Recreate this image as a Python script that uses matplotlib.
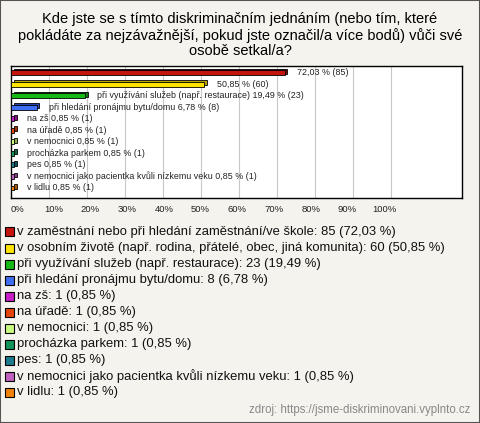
import matplotlib.pyplot as plt
from matplotlib.patches import Rectangle

# data
categories = [
    "v zaměstnání nebo při hledání zaměstnání/ve škole",
    "v osobním životě (např. rodina, přátelé, obec, jiná komunita)",
    "při využívání služeb (např. restaurace)",
    "při hledání pronájmu bytu/domu",
    "na zš",
    "na úřadě",
    "v nemocnici",
    "procházka parkem",
    "pes",
    "v nemocnici jako pacientka kvůli nízkemu veku",
    "v lidlu",
]
counts = [85, 60, 23, 8, 1, 1, 1, 1, 1, 1, 1]
percents = [72.03, 50.85, 19.49, 6.78, 0.85, 0.85, 0.85, 0.85, 0.85, 0.85, 0.85]
colors = ["#c4140c", "#ffe400", "#16b816", "#3f6ef2", "#c81ec8", "#e5450c",
          "#c8fa80", "#13955a", "#1d7b8c", "#c060c0", "#ef820a"]
shade = ["#7a0c06", "#b8a400", "#0c7a0c", "#2444a8", "#8a148a", "#a02e06",
         "#8cb050", "#0c6a3e", "#125462", "#884088", "#a85a06"]
ticks = [0, 10, 20, 30, 40, 50, 60, 70, 80, 90, 100]

W, H = 480, 423
bg = "#f4f3ee"
plt.rcParams["font.family"] = ["Liberation Sans", "DejaVu Sans"]

fig = plt.figure(figsize=(W / 100, H / 100), dpi=100, facecolor=bg)
fig.patches.append(Rectangle((0, 0), 1, 1, transform=fig.transFigure,
                             fill=False, edgecolor="#555555", lw=1.5))

fig.text(0.5, 1 - 35 / H,
         "Kde jste se s tímto diskriminačním jednáním (nebo tím, které\n"
         "pokládáte za nejzávažnější, pokud jste označil/a více bodů) vůči své\n"
         "osobě setkal/a?",
         ha="center", va="center", fontsize=10.5, linespacing=1.15)

# plot area: 0% at x=11, 100% at x=391, right border at x=462
ax = fig.add_axes([11 / W, 1 - 198 / H, (462 - 11) / W, (198 - 66) / H])
ax.set_facecolor("white")
ax.set_xlim(0, 100 * (462 - 11) / 380)
ax.set_ylim(len(categories) - 1 + 0.87, -0.58)
for t in ticks[1:]:
    ax.axvline(t, color="#c8c8c8", lw=0.8, zorder=0)
for s in ax.spines.values():
    s.set_linewidth(1.0)
ax.set_xticks([])
ax.set_yticks([])

rows = list(range(len(categories)))
dx, dy = 0.7, 0.13
# back face for 3D look
ax.barh([r - dy for r in rows], percents, left=dx, height=0.42,
        color=shade, edgecolor="black", lw=0.6, zorder=2)
ax.barh(rows, percents, height=0.42, color=colors, edgecolor="black",
        lw=0.6, zorder=3)

for i, (cat, p, n) in enumerate(zip(categories, percents, counts)):
    val = f"{p:.2f}".replace(".", ",") + f" % ({n})"
    txt = val if i < 2 else f"{cat} {val}"
    ax.annotate(txt, (p + dx, i), xytext=(7, 0), textcoords="offset points",
                va="center", ha="left", fontsize=6.4, color="#222222", zorder=4)

# tick labels sit slightly off the grid lines, as in the original
for t in ticks:
    ax.text(1.6 + t * 0.966, -0.09, f"{t}%", transform=ax.get_xaxis_transform(),
            ha="center", va="center", fontsize=6.8, color="#222222")

# legend below the plot
y0, step = 232, 16.0
for i, (cat, p, n) in enumerate(zip(categories, percents, counts)):
    y = y0 + i * step
    fig.patches.append(Rectangle((5 / W, 1 - (y + 4.5) / H), 9 / W, 9 / H,
                                 transform=fig.transFigure, facecolor=colors[i],
                                 edgecolor="black", lw=0.8))
    fig.text(17 / W, 1 - y / H,
             f"{cat}: {n} (" + f"{p:.2f}".replace(".", ",") + " %)",
             ha="left", va="center", fontsize=9.4, color="#111111")

fig.text(470 / W, 1 - 410 / H, "zdroj: https://jsme-diskriminovani.vyplnto.cz",
         ha="right", va="center", fontsize=8.3, color="#888888")

fig.savefig("out.png", dpi=100, facecolor=bg)
